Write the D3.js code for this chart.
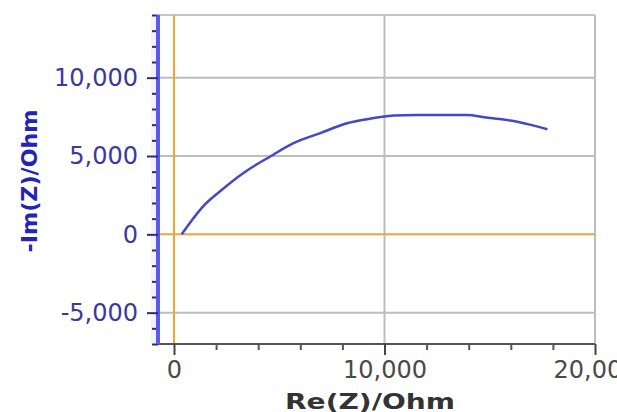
<!DOCTYPE html>
<html>
<head>
<meta charset="utf-8">
<script src="https://cdn.jsdelivr.net/npm/d3@7"></script>
<style>
  body { margin: 0; background: #fff; overflow: hidden; }
  svg { display: block; }
</style>
</head>
<body>
<svg id="nyquist"></svg>
<script>
// impedance points (Ohm)
var reZ = [366, 762, 1395, 2190, 3300, 4570, 5680, 6950, 8220, 9170, 10440, 11500, 12800, 13950, 14720, 15990, 16950, 17740]
var negImZ = [0, 743, 1800, 2750, 3920, 4970, 5820, 6460, 7090, 7350, 7580, 7620, 7620, 7620, 7470, 7260, 6985, 6710]

var xMajor = [0, 10000, 20000]
var xMinor = [2000, 4000, 6000, 8000, 12000, 14000, 16000, 18000]
var yMajor = [-5000, 0, 5000, 10000]
var yMinor = [-7000, -6000, -4000, -3000, -2000, -1000, 1000, 2000, 3000, 4000, 6000, 7000, 8000, 9000, 11000, 12000, 13000, 14000]

var dimensions = {
  width: 617,
  height: 412,
  margin: { top: 15, bottom: 68, right: 22, left: 158 }
}

var svg = d3.select("#nyquist")
  .attr("width", dimensions.width)
  .attr("height", dimensions.height)

// note: "top" is taken by window.top, so plot edges get their own names
var plotLeft = dimensions.margin.left
var plotRight = dimensions.width - dimensions.margin.right
var plotTop = dimensions.margin.top
var plotBottom = dimensions.height - dimensions.margin.bottom

var xScale = d3.scaleLinear()
  .domain([-760, 20000])
  .range([plotLeft, plotRight])

var yScale = d3.scaleLinear()
  .domain([-7000, 14000])
  .range([plotBottom, plotTop])

// plain hyphen for negatives, like the original
var fmt = d => d3.format(",")(d).replace("\u2212", "-")

// light band along the left axis
svg.append("rect")
  .attr("x", plotLeft - 7).attr("y", plotTop)
  .attr("width", 7).attr("height", plotBottom - plotTop)
  .attr("fill", "#f3f2fc")

// grid
svg.append("g")
  .selectAll("line")
  .data(yMajor.filter(d => d != 0))
  .enter().append("line")
  .attr("x1", plotLeft).attr("x2", plotRight)
  .attr("y1", d => yScale(d)).attr("y2", d => yScale(d))
  .attr("stroke", "#bdbdbd").attr("stroke-width", 2)

svg.append("g")
  .selectAll("line")
  .data(xMajor.filter(d => d != 0))
  .enter().append("line")
  .attr("x1", d => xScale(d)).attr("x2", d => xScale(d))
  .attr("y1", plotTop).attr("y2", plotBottom)
  .attr("stroke", "#bdbdbd").attr("stroke-width", 2)

// top border
svg.append("line")
  .attr("x1", plotLeft).attr("x2", plotRight)
  .attr("y1", plotTop).attr("y2", plotTop)
  .attr("stroke", "#c4c4c4").attr("stroke-width", 2)

// orange zero lines
svg.append("line")
  .attr("x1", plotLeft).attr("x2", plotRight)
  .attr("y1", yScale(0)).attr("y2", yScale(0))
  .attr("stroke", "#f2a33a").attr("stroke-width", 2)

svg.append("line")
  .attr("x1", xScale(0)).attr("x2", xScale(0))
  .attr("y1", plotTop).attr("y2", plotBottom)
  .attr("stroke", "#f2a33a").attr("stroke-width", 2)

// x axis
var xAxisMinor = d3.axisBottom(xScale).tickValues(xMinor).tickSize(6).tickFormat("")
svg.append("g")
  .attr("transform", `translate(0,${plotBottom})`)
  .call(xAxisMinor)
  .call(g => g.select(".domain").remove())
  .call(g => g.selectAll("line").attr("stroke", "#555").attr("stroke-width", 2))

var xAxisGen = d3.axisBottom(xScale)
  .tickValues(xMajor)
  .tickSize(11)
  .tickPadding(6)
  .tickFormat(fmt)
svg.append("g")
  .attr("transform", `translate(0,${plotBottom})`)
  .call(xAxisGen)
  .call(g => g.select(".domain").attr("d", `M${plotLeft},0H${plotRight}`).attr("stroke", "#555").attr("stroke-width", 2))
  .call(g => g.selectAll("line").attr("stroke", "#444").attr("stroke-width", 2))
  .call(g => g.selectAll("text")
    .attr("font-family", "DejaVu Sans")
    .attr("font-size", 24)
    .attr("fill", "#4a4a4a"))

// y axis
var yAxisMinor = d3.axisLeft(yScale).tickValues(yMinor).tickSize(6).tickFormat("")
svg.append("g")
  .attr("transform", `translate(${plotLeft},0)`)
  .call(yAxisMinor)
  .call(g => g.select(".domain").remove())
  .call(g => g.selectAll("line").attr("stroke", "#2a2a7a").attr("stroke-width", 2))

var yAxisGen = d3.axisLeft(yScale)
  .tickValues(yMajor)
  .tickSize(11)
  .tickPadding(9)
  .tickFormat(fmt)
svg.append("g")
  .attr("transform", `translate(${plotLeft},0)`)
  .call(yAxisGen)
  .call(g => g.select(".domain").attr("d", `M0,${plotTop}V${plotBottom}`).attr("stroke", "#5a5ae8").attr("stroke-width", 4))
  .call(g => g.selectAll("line").attr("stroke", "#2a2a7a").attr("stroke-width", 2))
  .call(g => g.selectAll("text")
    .attr("font-family", "DejaVu Sans")
    .attr("font-size", 24)
    .attr("fill", "#3a3a9e"))

// the curve
var line = d3.line()
  .x((d, i) => xScale(reZ[i]))
  .y((d, i) => yScale(negImZ[i]))
  .curve(d3.curveMonotoneX)

svg.append("path")
  .datum(reZ)
  .attr("d", line)
  .attr("fill", "none")
  .attr("stroke", "#4646c8")
  .attr("stroke-width", 2.5)

// axis labels
svg.append("text")
  .attr("x", 370)
  .attr("y", 409)
  .attr("text-anchor", "middle")
  .attr("font-family", "DejaVu Sans")
  .attr("font-weight", "bold")
  .attr("font-size", 22)
  .attr("textLength", 170)
  .attr("lengthAdjust", "spacingAndGlyphs")
  .attr("fill", "#333")
  .text("Re(Z)/Ohm")

svg.append("text")
  .attr("transform", "translate(37,181) rotate(-90)")
  .attr("text-anchor", "middle")
  .attr("font-family", "DejaVu Sans")
  .attr("font-weight", "bold")
  .attr("font-size", 22)
  .attr("textLength", 143)
  .attr("lengthAdjust", "spacingAndGlyphs")
  .attr("fill", "#2323b8")
  .text("-Im(Z)/Ohm")
</script>
</body>
</html>
